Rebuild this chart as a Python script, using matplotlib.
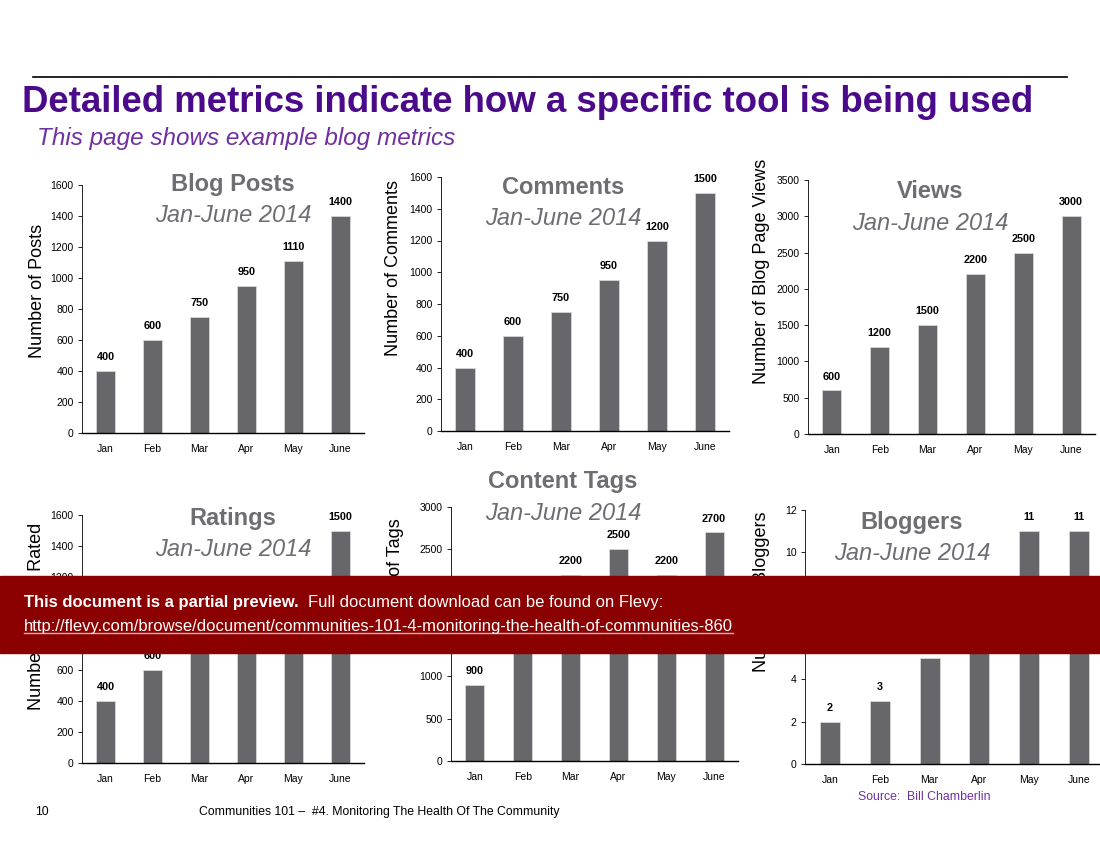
import matplotlib
matplotlib.use("Agg")
import matplotlib.pyplot as plt
from matplotlib.lines import Line2D

plt.rcParams['font.family'] = ['Liberation Sans', 'DejaVu Sans']

months = ['Jan', 'Feb', 'Mar', 'Apr', 'May', 'June']

blog_posts = [400, 600, 750, 950, 1110, 1400]
comments = [400, 600, 750, 950, 1200, 1500]
views = [600, 1200, 1500, 2200, 2500, 3000]
ratings = [400, 600, 750, 950, 1000, 1500]
content_tags = [900, 1700, 2200, 2500, 2200, 2700]
bloggers = [2, 3, 5, 7, 11, 11]

W, H = 1100, 850
BAR = '#67666b'
GREY_TXT = '#6d6d73'
PURPLE = '#4a0a8a'
LIGHT_PURPLE = '#7030a0'

fig = plt.figure(figsize=(11, 8.5), dpi=100)


def px(x, y):
    return x / W, 1 - y / H


def panel(rect, values, ymax, ystep, title, title_xy, ylabel, ylabel_xy,
          xmax=5.5):
    left, top, width, height = rect
    ax = fig.add_axes([left / W, 1 - (top + height) / H, width / W, height / H])
    x = range(len(values))
    ax.bar(x, values, width=0.4, color=BAR, edgecolor='#d6d6d6', linewidth=0.6)
    off = ymax * 0.035
    for i, v in enumerate(values):
        ax.text(i, v + off, str(v), ha='center', va='bottom',
                fontsize=7.8, fontweight='bold', color='black')
    ax.set_xlim(-0.5, xmax)
    ax.set_ylim(0, ymax)
    ax.set_yticks(range(0, ymax + 1, ystep))
    ax.set_xticks(list(x))
    ax.set_xticklabels(months)
    ax.tick_params(axis='x', length=0, pad=8, labelsize=7.5)
    ax.tick_params(axis='y', length=3, width=0.6, pad=3, labelsize=7.5)
    for s in ['top', 'right']:
        ax.spines[s].set_visible(False)
    ax.spines['left'].set_linewidth(0.6)
    ax.spines['bottom'].set_linewidth(1.0)
    ax.set_facecolor('none')

    tx, ty = title_xy
    fig.text(*px(tx, ty), title, ha='center', va='center', fontsize=17,
             fontweight='bold', color=GREY_TXT)
    fig.text(*px(tx, ty + 31), 'Jan-June 2014', ha='center', va='center',
             fontsize=17, style='italic', color=GREY_TXT)
    lx, ly = ylabel_xy
    fig.text(*px(lx, ly), ylabel, ha='center', va='center', rotation=90,
             fontsize=13, color='black')
    return ax


panel((82, 185, 282, 248), blog_posts, 1600, 200, 'Blog Posts', (233, 185),
      'Number of Posts', (37, 291))
panel((441, 177, 288, 254), comments, 1600, 200, 'Comments', (563, 188),
      'Number of Comments', (393, 268))
panel((808, 180, 287, 254), views, 3500, 500, 'Views', (930, 192),
      'Number of Blog Page Views', (761, 271))
panel((82, 515, 282, 248), ratings, 1600, 200, 'Ratings', (233, 518),
      'Number of Posts Rated', (37, 616))
panel((451, 507, 287, 254), content_tags, 3000, 500, 'Content Tags', (563, 482),
      'Number of Tags', (395, 582))
panel((805, 510, 294, 254), bloggers, 12, 2, 'Bloggers', (912, 522),
      'Number of Bloggers', (761, 592), xmax=5.4)

# header
fig.add_artist(Line2D([33 / W, 1067 / W], [1 - 77 / H] * 2, color='black',
                      linewidth=1.2))
fig.text(*px(22, 103), 'Detailed metrics indicate how a specific tool is being used',
         ha='left', va='center', fontsize=26.4, fontweight='bold', color=PURPLE)
fig.text(*px(37, 138), 'This page shows example blog metrics', ha='left',
         va='center', fontsize=17.5, style='italic', color=LIGHT_PURPLE)

# footer
fig.text(*px(35, 812), '10', ha='left', va='center', fontsize=8.8)
fig.text(*px(199, 812), 'Communities 101 \u2013  #4. Monitoring The Health Of The Community',
         ha='left', va='center', fontsize=8.8)
fig.text(*px(858, 797), 'Source:  Bill Chamberlin', ha='left', va='center',
         fontsize=8.8, color=LIGHT_PURPLE)

# preview banner
fig.add_artist(plt.Rectangle((0, 1 - 653 / H), 1, 77 / H, color='#8b0000',
                             transform=fig.transFigure, zorder=10))
t1 = fig.text(*px(24, 603), 'This document is a partial preview.', ha='left',
              va='center', fontsize=12, fontweight='bold', color='white',
              zorder=11)
fig.canvas.draw()
r = fig.canvas.get_renderer()
bb = t1.get_window_extent(r)
fig.text((bb.x1 + 9) / W, 1 - 603 / H,
         'Full document download can be found on Flevy:', ha='left',
         va='center', fontsize=12, color='white', zorder=11)
t3 = fig.text(*px(24, 626),
              'http://flevy.com/browse/document/communities-101-4-monitoring-the-health-of-communities-860',
              ha='left', va='center', fontsize=12, color='white', zorder=11)
bb3 = t3.get_window_extent(r)
fig.add_artist(Line2D([bb3.x0 / W, bb3.x1 / W], [(bb3.y0 + 1) / H] * 2,
                      color='#d8b0b0', linewidth=1, zorder=11))

fig.savefig('out.png', dpi=100)
